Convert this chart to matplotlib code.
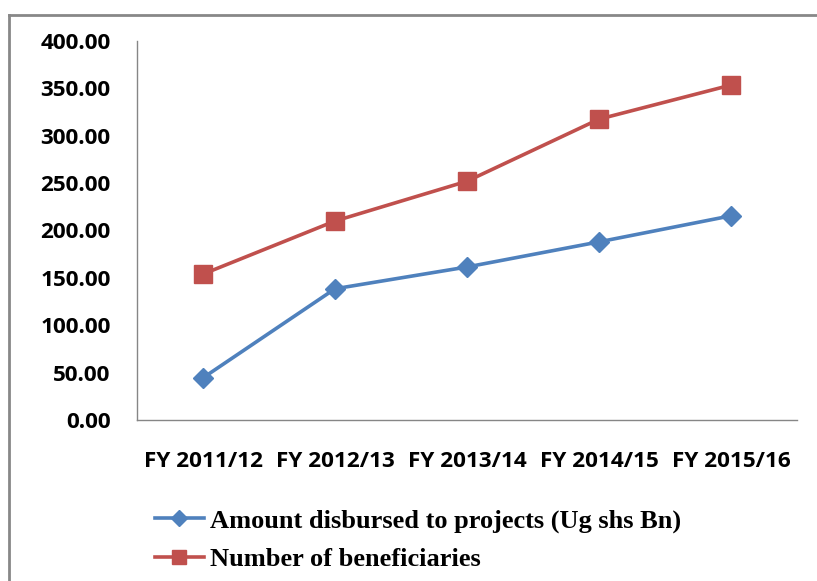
import matplotlib
matplotlib.use("Agg")
import matplotlib.pyplot as plt
from matplotlib.lines import Line2D

# Data
years = ["FY 2011/12", "FY 2012/13", "FY 2013/14", "FY 2014/15", "FY 2015/16"]
amount_disbursed = [44.5, 138.5, 161.5, 188.0, 215.5]
beneficiaries = [154.0, 210.0, 252.0, 317.5, 353.5]
y_ticks = [0, 50, 100, 150, 200, 250, 300, 350, 400]

blue = "#4F81BD"
red = "#C0504D"
spine_grey = "#868686"

fig = plt.figure(figsize=(8.17, 5.81), dpi=100)
ax = fig.add_axes([137 / 817, 1 - 420 / 581, 660 / 817, 379 / 581])

x = range(len(years))
ax.plot(x, amount_disbursed, color=blue, lw=2.6, marker="D", ms=10,
        label="Amount disbursed to projects (Ug shs Bn)")
ax.plot(x, beneficiaries, color=red, lw=2.6, marker="s", ms=12.5,
        label="Number of beneficiaries")

ax.set_xlim(-0.5, len(years) - 0.5)
ax.set_ylim(0, 400)
ax.set_yticks(y_ticks)
ax.set_yticklabels([f"{v:.2f}" for v in y_ticks])
ax.set_xticks(list(x))
ax.set_xticklabels(years)

for side in ["top", "right"]:
    ax.spines[side].set_visible(False)
for side in ["left", "bottom"]:
    ax.spines[side].set_color(spine_grey)
    ax.spines[side].set_linewidth(1.0)

ax.tick_params(axis="both", length=0)
ax.tick_params(axis="y", pad=19)
ax.tick_params(axis="x", pad=22)
for lbl in ax.get_xticklabels() + ax.get_yticklabels():
    lbl.set_fontfamily("Open Sans")
    lbl.set_fontweight("bold")
    lbl.set_fontsize(16.2)

fig.legend(loc="upper left", bbox_to_anchor=(155 / 817, 1 - 509 / 581),
           frameon=False, borderpad=0, borderaxespad=0, markerscale=0.85,
           handlelength=1.85, handletextpad=0.25, labelspacing=0.55,
           prop={"family": "Liberation Serif", "weight": "bold", "size": 19})

# outer chart frame (only top and left edges visible)
fig.add_artist(Line2D([9 / 817, 9 / 817], [0, 1 - 15 / 581],
                      transform=fig.transFigure, color="#888888", lw=2))
fig.add_artist(Line2D([9 / 817, 1], [1 - 15 / 581, 1 - 15 / 581],
                      transform=fig.transFigure, color="#888888", lw=2))

fig.savefig("out.png", dpi=100)
